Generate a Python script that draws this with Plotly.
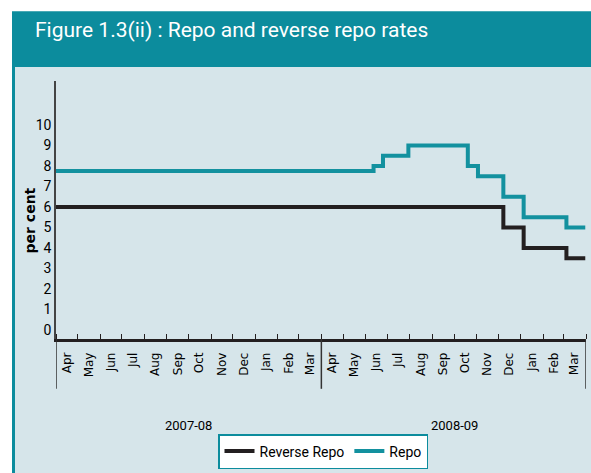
import pandas as pd
import plotly.graph_objects as go

# policy rate changes (date of change, rate in per cent)
repo_dates = ["2007-04-01", "2008-06-12", "2008-06-25", "2008-07-30", "2008-10-20",
              "2008-11-03", "2008-12-08", "2009-01-05", "2009-03-05", "2009-03-31"]
repo_rates = [7.75, 8.0, 8.5, 9.0, 8.0, 7.5, 6.5, 5.5, 5.0, 5.0]

rev_dates = ["2007-04-01", "2008-12-08", "2009-01-05", "2009-03-05", "2009-03-31"]
rev_rates = [6.0, 5.0, 4.0, 3.5, 3.5]

month_labels = ["Apr", "May", "Jun", "Jul", "Aug", "Sep", "Oct", "Nov", "Dec", "Jan", "Feb", "Mar"] * 2
year_labels = ["2007-08", "2008-09"]
y_ticks = list(range(0, 11))

TEAL = "#0C8C9D"
LINE_TEAL = "#13919F"
GRID = "#3A9FAD"
BODY = "#D6E5EA"
NARROW = "Liberation Sans Narrow, Arial Narrow, Roboto, sans-serif"

W, H = 591, 473
L, R, T, B = 56, 586, 81, 340


# pixel -> paper coordinate
def px_x(p):
    return (p - L) / (R - L)


def px_y(p):
    return (B - p) / (B - T)


month_mid = pd.date_range("2007-04-01", periods=24, freq="MS") + pd.Timedelta(days=15)

fig = go.Figure()

fig.add_trace(go.Scatter(
    x=rev_dates, y=rev_rates, name="Reverse Repo", mode="lines",
    line=dict(color="#231F20", width=4, shape="hv")
))
fig.add_trace(go.Scatter(
    x=repo_dates, y=repo_rates, name="Repo", mode="lines",
    line=dict(color=LINE_TEAL, width=4, shape="hv")
))

# frame, header band and body
shapes = [
    dict(type="rect", xref="paper", yref="paper", x0=px_x(12), x1=px_x(600), y0=px_y(11), y1=px_y(480),
         fillcolor=TEAL, line=dict(width=0), layer="below"),
    dict(type="rect", xref="paper", yref="paper", x0=px_x(15), x1=px_x(600), y0=px_y(67), y1=px_y(480),
         fillcolor=BODY, line=dict(width=0), layer="below"),
]
# year separators below the axis
for d in ["2007-04-01", "2008-04-01", "2009-04-01"]:
    shapes.append(dict(type="line", xref="x", yref="paper", x0=d, x1=d, y0=0, y1=px_y(390),
                       line=dict(color="#333333", width=1.5)))

annotations = [
    dict(text="Figure 1.3(ii) : Repo and reverse repo rates", xref="paper", yref="paper",
         x=px_x(33), y=px_y(30), xanchor="left", yanchor="middle", showarrow=False,
         font=dict(family=NARROW, size=21, color="white")),
    dict(text="<b>per cent</b>", xref="paper", yref="paper", x=px_x(30), y=px_y(221),
         xanchor="center", yanchor="middle",
         textangle=-90, showarrow=False, font=dict(family="DejaVu Sans", size=14, color="black")),
    dict(text=year_labels[0], xref="x", yref="paper", x="2007-10-01", y=px_y(427),
         xanchor="center", yanchor="middle",
         showarrow=False, font=dict(family=NARROW, size=13, color="black")),
    dict(text=year_labels[1], xref="x", yref="paper", x="2008-10-01", y=px_y(427),
         xanchor="center", yanchor="middle",
         showarrow=False, font=dict(family=NARROW, size=13, color="black")),
]

fig.update_layout(
    width=W, height=H,
    margin=dict(l=L, r=W - R, t=T, b=H - B),
    paper_bgcolor="white",
    plot_bgcolor=BODY,
    shapes=shapes,
    annotations=annotations,
    showlegend=True,
    legend=dict(orientation="h", x=px_x(218), y=px_y(434), xanchor="left", yanchor="top",
                bgcolor="white", bordercolor=TEAL, borderwidth=1.5,
                font=dict(family=NARROW, size=14, color="black")),
    xaxis=dict(
        type="date", range=["2007-04-01", "2009-04-01"],
        tickvals=month_mid, ticktext=month_labels, tickangle=-90, ticks="",
        tickfont=dict(family="DejaVu Sans", size=12, color="black"),
        showgrid=False, zeroline=False, showline=True, linecolor="#231F20", linewidth=2.5,
        minor=dict(ticks="inside", ticklen=5, tickcolor="#231F20", tickwidth=1.2,
                   dtick="M1", tick0="2007-04-01", showgrid=False),
        ticklabelstandoff=6,
    ),
    yaxis=dict(
        range=[-0.44, 12.14], tickvals=y_ticks, ticks="", showgrid=False, zeroline=False,
        showline=True, linecolor="#444444", linewidth=1.5,
        tickfont=dict(family=NARROW, size=14, color="black"),
    ),
    yaxis2=dict(
        overlaying="y", range=[-0.18, 10.84], tickvals=list(range(1, 10)),
        showticklabels=False, showgrid=True, gridcolor=GRID, gridwidth=1.2, zeroline=False,
    ),
)

# drop the page's default 8px body margin so the figure fills the window
fig.write_html("out.html", config={"displayModeBar": False},
               post_script="document.body.style.margin='0';document.body.style.overflow='hidden';")
